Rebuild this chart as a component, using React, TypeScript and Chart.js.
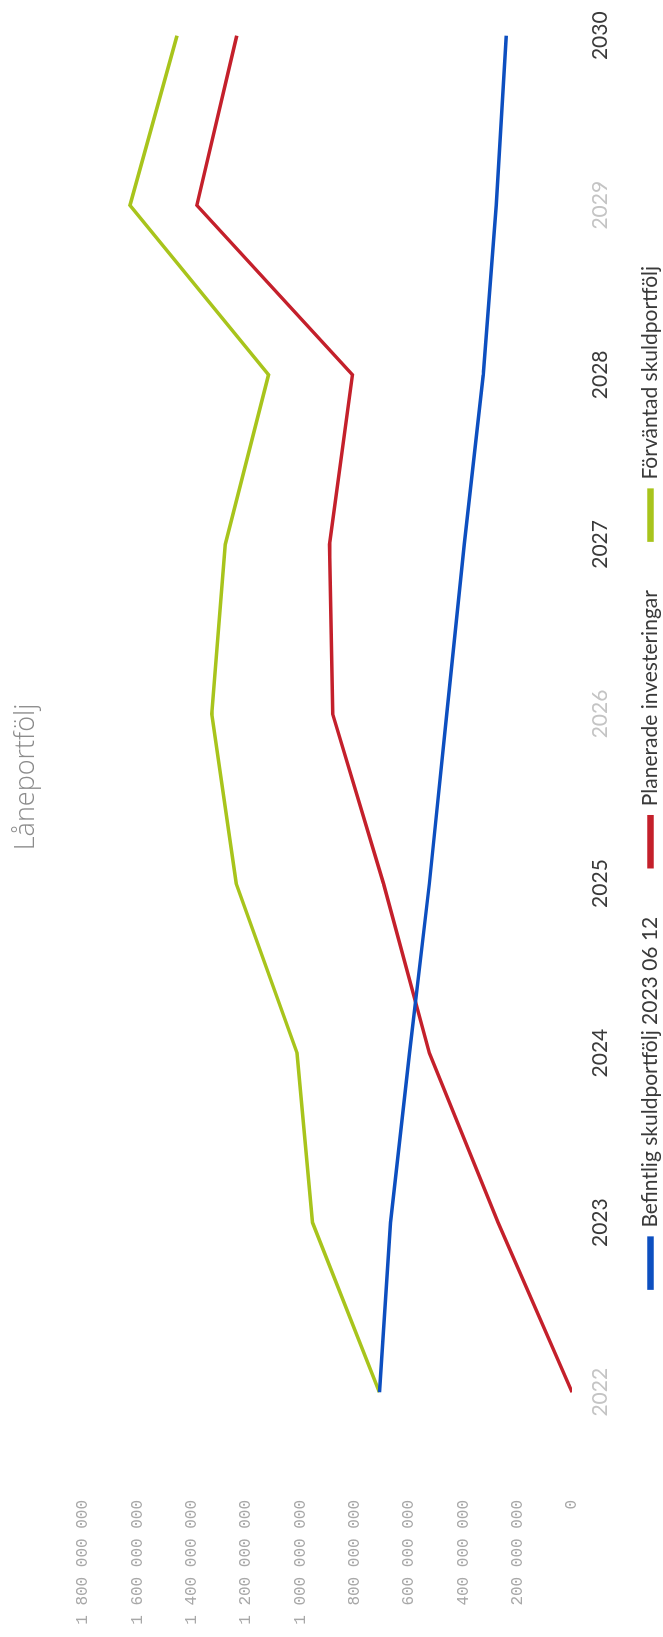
import React, { useEffect, useRef } from 'react';
import { Chart, registerables } from 'chart.js';

Chart.register(...registerables);

// ---- data ----
const chartTitle = 'Låneportfölj';
const years = ['2022', '2023', '2024', '2025', '2026', '2027', '2028', '2029', '2030'];
const seriesNames = [
  'Befintlig skuldportfölj 2023 06 12',
  'Planerade investeringar',
  'Förväntad skuldportfölj',
];
const befintlig = [709e6, 668e6, 598e6, 525e6, 461e6, 397e6, 327e6, 279e6, 242e6];
const planerade = [0, 272e6, 525e6, 694e6, 881e6, 893e6, 808e6, 1381e6, 1234e6];
const forvantad = [709e6, 955e6, 1012e6, 1236e6, 1326e6, 1276e6, 1117e6, 1627e6, 1454e6];
const yTickLabels = [
  '0',
  '200 000 000',
  '400 000 000',
  '600 000 000',
  '800 000 000',
  '1 000 000 000',
  '1 200 000 000',
  '1 400 000 000',
  '1 600 000 000',
  '1 800 000 000',
];

// ---- style ----
const PAGE_W = 663;
const PAGE_H = 1637;
const CANVAS_W = 1720; // chart drawn unrotated, then turned 90° counter-clockwise
const CANVAS_H = 671;
const colors = ['#0d4fc0', '#c4202b', '#a8c41c'];
const fadedYears = [0, 4, 7];

export default function App() {
  const canvasRef = useRef<HTMLCanvasElement | null>(null);

  useEffect(() => {
    const canvas = canvasRef.current;
    if (!canvas) return;
    const chart = new Chart(canvas, {
      type: 'line',
      data: {
        labels: years,
        datasets: [befintlig, planerade, forvantad].map((d, i) => ({
          label: seriesNames[i],
          data: d,
          borderColor: colors[i],
          backgroundColor: colors[i],
          borderWidth: 3.5,
          pointRadius: 0,
          tension: 0,
          fill: false,
        })),
      },
      options: {
        responsive: false,
        maintainAspectRatio: false,
        devicePixelRatio: 1,
        animation: false,
        layout: { padding: { left: 0, right: 0, top: 0, bottom: 0 } },
        plugins: {
          title: {
            display: true,
            text: chartTitle,
            color: '#8c8c8c',
            font: { family: '"Open Sans", Lato, sans-serif', size: 27, weight: '300' },
            padding: { top: 10, bottom: 40.6 },
          },
          legend: {
            display: true,
            position: 'bottom',
            labels: {
              boxWidth: 50,
              boxHeight: 3,
              padding: 50,
              color: '#3a3a3a',
              font: { family: 'Lato, sans-serif', size: 21 },
            },
          },
          tooltip: { enabled: false },
        },
        scales: {
          x: {
            type: 'linear',
            min: 2021.5,
            max: 2030.7,
            grid: { display: false, drawTicks: false },
            border: { display: false },
            ticks: {
              stepSize: 1,
              includeBounds: false,
              mirror: true,
              padding: -40.6,
              color: (ctx: any) => (fadedYears.includes(ctx.index) ? '#c4c4c4' : '#3a3a3a'),
              font: { family: 'Lato, sans-serif', size: 21 },
              maxRotation: 0,
              autoSkip: false,
              callback: (v: any) => years.find((y) => Number(y) === Number(v)) ?? '',
            },
            afterFit: (scale: any) => {
              scale.height = 18;
            },
          },
          y: {
            min: 0,
            max: 1800000000,
            grid: { display: false, drawTicks: false },
            border: { display: false },
            ticks: {
              stepSize: 200000000,
              padding: 23,
              color: '#a8a8a8',
              font: { family: '"Liberation Mono", monospace', size: 16 },
              callback: (_v: any, i: number) => yTickLabels[i],
            },
            afterFit: (scale: any) => {
              scale.width = 160;
            },
          },
        },
      },
    });
    return () => chart.destroy();
  }, []);

  return (
    <div
      style={{
        position: 'absolute',
        left: 0,
        top: 0,
        width: PAGE_W,
        height: PAGE_H,
        overflow: 'hidden',
        background: '#ffffff',
      }}
    >
      <canvas
        ref={canvasRef}
        width={CANVAS_W}
        height={CANVAS_H}
        style={{
          position: 'absolute',
          left: 0,
          top: 0,
          width: CANVAS_W,
          height: CANVAS_H,
          transformOrigin: '0 0',
          transform: `translate(0px, ${PAGE_H}px) rotate(-90deg)`,
        }}
      />
    </div>
  );
}
